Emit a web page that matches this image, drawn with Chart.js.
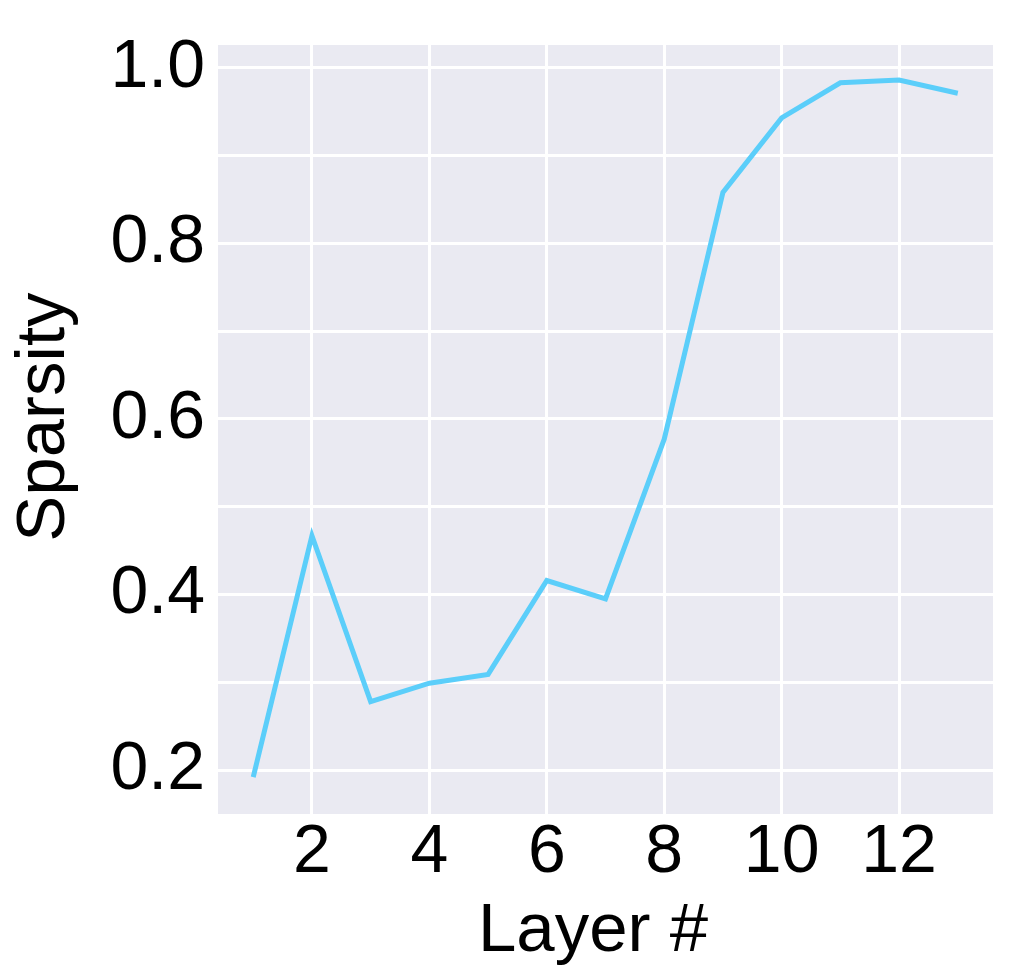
<!DOCTYPE html>
<html>
<head>
<meta charset="utf-8">
<script src="https://cdn.jsdelivr.net/npm/chart.js@4.4.1/dist/chart.umd.min.js"></script>
<style>
  html, body { margin: 0; padding: 0; background: #ffffff; }
  #wrap { width: 1034px; height: 978px; position: relative; }
</style>
</head>
<body>
<div id="wrap"><canvas id="sparsity-chart" width="1034" height="978"></canvas></div>
<script>
// layer index and measured sparsity per layer
const layers = [1, 2, 3, 4, 5, 6, 7, 8, 9, 10, 11, 12, 13];
const sparsity = [0.192, 0.467, 0.278, 0.299, 0.309, 0.416, 0.395, 0.577, 0.858, 0.943, 0.983, 0.986, 0.971];

const xTicks = [2, 4, 6, 8, 10, 12];
const yTicks = [0.2, 0.3, 0.4, 0.5, 0.6, 0.7, 0.8, 0.9, 1.0];
const yLabelled = [0.2, 0.4, 0.6, 0.8, 1.0];

const fontFamily = "'Liberation Sans', Arial, Helvetica, sans-serif";

// grey seaborn-like plot background
const plotBackground = {
    id: "plotBackground",
    beforeDraw(chart) {
        const { ctx, chartArea } = chart;
        ctx.save();
        ctx.fillStyle = "#EAEAF2";
        ctx.fillRect(chartArea.left, chartArea.top, chartArea.right - chartArea.left, chartArea.bottom - chartArea.top);
        ctx.restore();
    }
};

const canvas = document.getElementById("sparsity-chart");

new Chart(canvas, {
    type: "line",
    data: {
        datasets: [{
            data: layers.map((l, i) => ({ x: l, y: sparsity[i] })),
            borderColor: "#5BCEFA",
            borderWidth: 5,
            pointRadius: 0,
            tension: 0,
            fill: false
        }]
    },
    options: {
        responsive: false,
        animation: false,
        layout: {
            padding: { top: 45, right: 41, left: 0, bottom: 0 }
        },
        plugins: {
            legend: { display: false },
            tooltip: { enabled: false }
        },
        scales: {
            x: {
                type: "linear",
                min: 0.4,
                max: 13.6,
                afterBuildTicks: (scale) => {
                    scale.ticks = xTicks.map(v => ({ value: v }));
                },
                afterFit: (scale) => {
                    scale.height = 164;
                    scale.paddingLeft = 0;
                    scale.paddingRight = 0;
                },
                border: { display: false },
                grid: { color: "#ffffff", lineWidth: 3, drawTicks: false },
                ticks: {
                    color: "#000000",
                    padding: -2,
                    maxRotation: 0,
                    font: { family: fontFamily, size: 68 },
                    callback: (v) => String(v)
                },
                title: {
                    display: true,
                    text: "Layer # \u200A",
                    color: "#000000",
                    padding: { top: 0, bottom: 5 },
                    font: { family: fontFamily, size: 69 }
                }
            },
            y: {
                type: "linear",
                min: 0.15,
                max: 1.026,
                afterBuildTicks: (scale) => {
                    scale.ticks = yTicks.map(v => ({ value: v }));
                },
                afterFit: (scale) => {
                    scale.width = 218;
                    scale.paddingTop = 0;
                    scale.paddingBottom = 0;
                },
                border: { display: false },
                grid: { color: "#ffffff", lineWidth: 3, drawTicks: false },
                ticks: {
                    color: "#000000",
                    padding: 13,
                    font: { family: fontFamily, size: 68 },
                    callback: (v) => yLabelled.some(t => Math.abs(t - v) < 1e-6) ? v.toFixed(1) : ""
                },
                title: {
                    display: true,
                    text: "\u200A Sparsity",
                    color: "#000000",
                    padding: { top: 4, bottom: 0 },
                    font: { family: fontFamily, size: 69 }
                }
            }
        }
    },
    plugins: [plotBackground]
});
</script>
</body>
</html>
